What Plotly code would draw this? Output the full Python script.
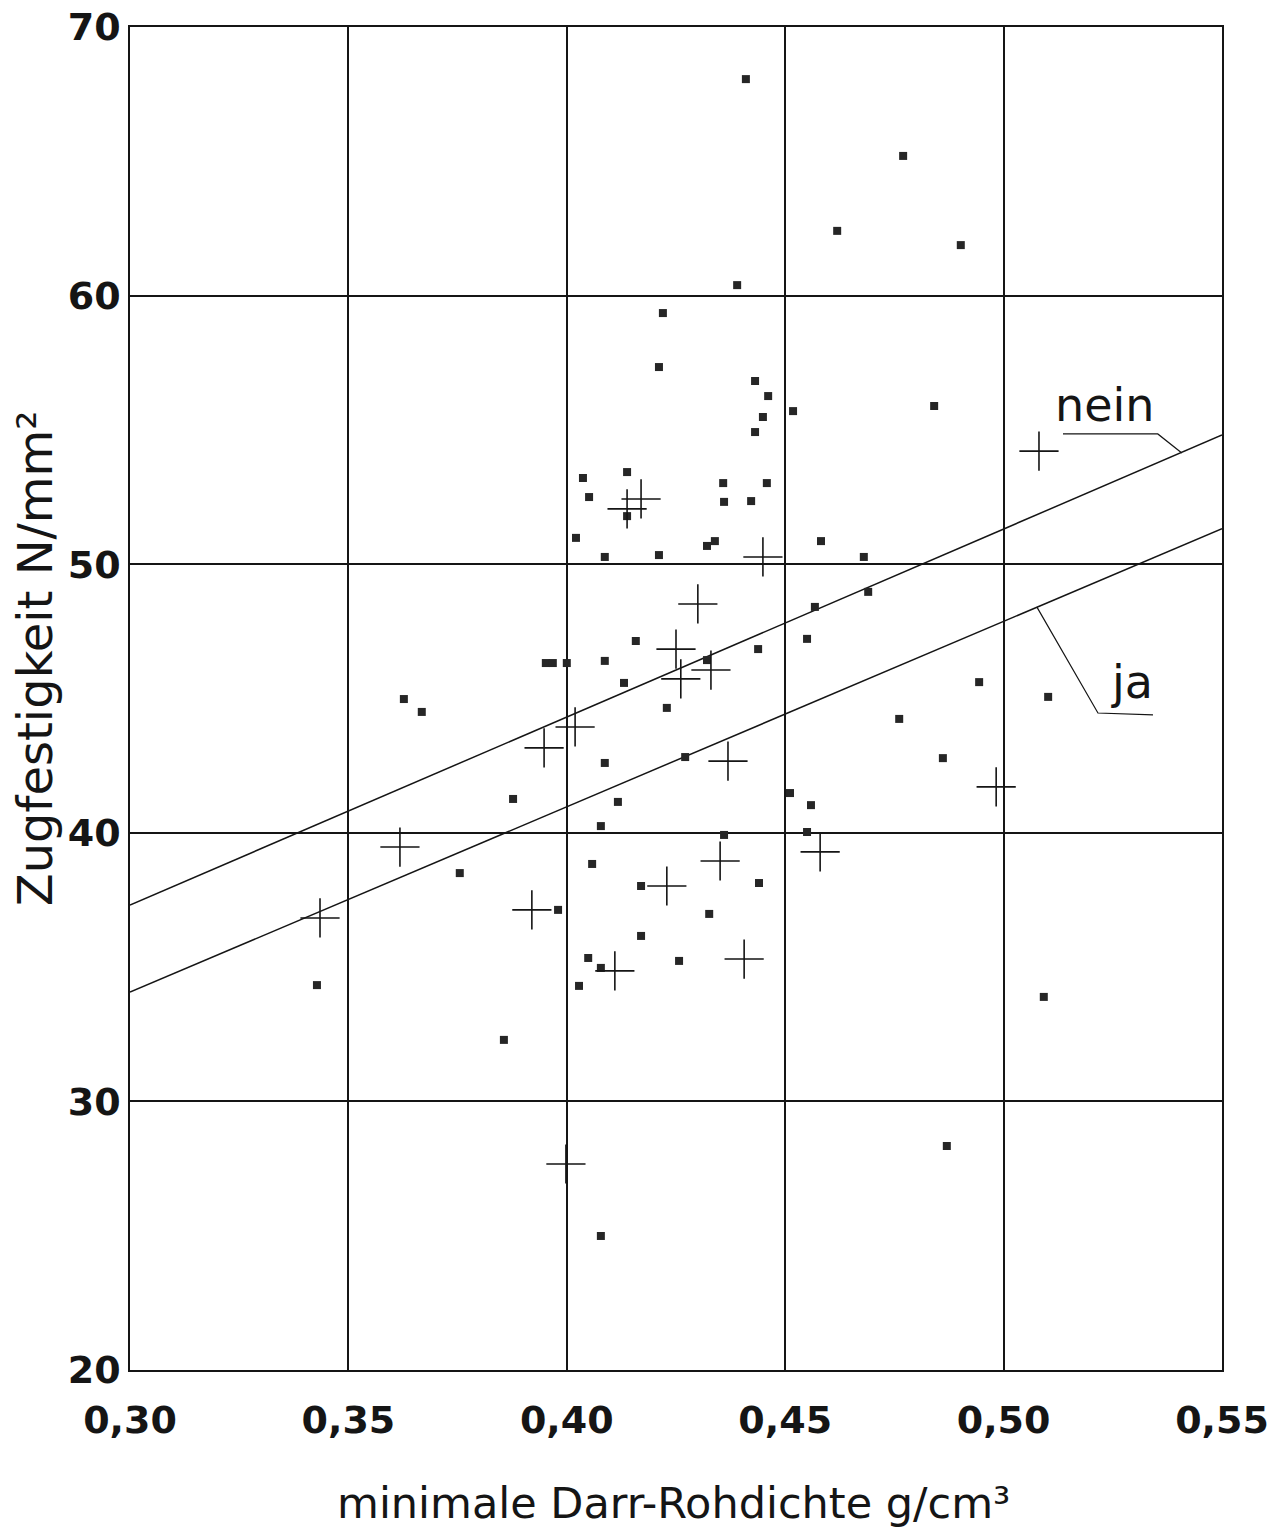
import plotly.graph_objects as go

# ---------------- data ----------------
# squares
sq_x = [0.4410, 0.4770, 0.4619, 0.4902, 0.4390, 0.4220, 0.4211, 0.4431, 0.4461, 0.4841,
        0.4518, 0.4449, 0.4431, 0.4138, 0.4037, 0.4358, 0.4458, 0.4051, 0.4422, 0.4360,
        0.4138, 0.4021, 0.4321, 0.4339, 0.4582, 0.4211, 0.4087, 0.4680, 0.4568, 0.4690,
        0.4550, 0.4438, 0.4321, 0.4158, 0.4087, 0.4000, 0.3952, 0.3968, 0.4131, 0.4229,
        0.3627, 0.3668, 0.4761, 0.4944, 0.5102, 0.4861, 0.4271, 0.4087, 0.4511, 0.4559,
        0.3877, 0.4117, 0.4078, 0.4550, 0.4360, 0.4058, 0.4440, 0.4170, 0.3755, 0.3980,
        0.4326, 0.4170, 0.4049, 0.4078, 0.4257, 0.4028, 0.3428, 0.3856, 0.5092, 0.4870,
        0.4078]
sq_y = [68.06, 65.20, 62.41, 61.88, 60.39, 59.35, 57.34, 56.82, 56.26, 55.89,
        55.70, 55.48, 54.92, 53.43, 53.21, 53.02, 53.02, 52.50, 52.35, 52.32,
        51.79, 50.98, 50.68, 50.86, 50.86, 50.34, 50.27, 50.27, 48.41, 48.97,
        47.22, 46.84, 46.43, 47.14, 46.40, 46.32, 46.32, 46.32, 45.58, 44.65,
        44.98, 44.50, 44.24, 45.61, 45.06, 42.78, 42.82, 42.60, 41.48, 41.03,
        41.26, 41.15, 40.25, 40.03, 39.92, 38.84, 38.13, 38.02, 38.50, 37.13,
        36.98, 36.16, 35.34, 34.97, 35.23, 34.30, 34.33, 32.29, 33.89, 28.34,
        24.99]

# crosses
cr_x = [0.4170, 0.4138, 0.4449, 0.4300, 0.4250, 0.4330, 0.4261, 0.4019, 0.3948, 0.4369,
        0.4983, 0.5081, 0.3618, 0.4580, 0.4351, 0.4229, 0.3920, 0.3435, 0.4110, 0.4406,
        0.3998]
cr_y = [52.43, 52.06, 50.27, 48.52, 46.84, 46.06, 45.73, 43.94, 43.16, 42.67,
        41.71, 54.21, 39.47, 39.29, 38.95, 38.02, 37.13, 36.83, 34.86, 35.30,
        27.67]

# regression lines
line_x = [0.30, 0.55]
nein_y = [37.31, 54.81]
ja_y = [34.07, 51.32]

x_ticks = [0.30, 0.35, 0.40, 0.45, 0.50, 0.55]
x_ticklabels = ["0,30", "0,35", "0,40", "0,45", "0,50", "0,55"]
y_ticks = [20, 30, 40, 50, 60, 70]
y_ticklabels = ["20", "30", "40", "50", "60", "70"]

x_title = "minimale Darr-Rohdichte g/cm³"
y_title = "Zugfestigkeit N/mm²"
label_nein = "nein"
label_ja = "ja"

# ---------------- figure ----------------
INK = "#151515"
fig = go.Figure()

fig.add_trace(go.Scatter(x=line_x, y=nein_y, mode="lines",
                         line=dict(color=INK, width=1.5), name=label_nein,
                         showlegend=False, hoverinfo="skip"))
fig.add_trace(go.Scatter(x=line_x, y=ja_y, mode="lines",
                         line=dict(color=INK, width=1.5), name=label_ja,
                         showlegend=False, hoverinfo="skip"))
fig.add_trace(go.Scatter(x=sq_x, y=sq_y, mode="markers",
                         marker=dict(symbol="square", size=8, color="#262626",
                                     line=dict(width=0)),
                         showlegend=False))
fig.add_trace(go.Scatter(x=cr_x, y=cr_y, mode="markers",
                         marker=dict(symbol="cross-thin", size=28,
                                     line=dict(color=INK, width=1.6)),
                         showlegend=False))

# leader lines for labels (data coordinates)
nein_leader = dict(x=[0.5136, 0.5353, 0.5408], y=[54.85, 54.85, 54.14])
ja_leader = dict(x=[0.5076, 0.5216, 0.5342], y=[48.41, 44.46, 44.39])
for ld in (nein_leader, ja_leader):
    fig.add_trace(go.Scatter(x=ld["x"], y=ld["y"], mode="lines",
                             line=dict(color=INK, width=1.2),
                             showlegend=False, hoverinfo="skip"))

fig.add_annotation(x=0.5232, y=55.93, xref="x", yref="y", text=label_nein,
                   showarrow=False, font=dict(family="DejaVu Sans", size=46, color=INK))
fig.add_annotation(x=0.5294, y=45.61, xref="x", yref="y", text=label_ja,
                   showarrow=False, font=dict(family="DejaVu Sans", size=46, color=INK))

# axis titles as annotations
fig.add_annotation(x=0.498, y=-0.099, xref="paper", yref="paper", text=x_title,
                   xanchor="center", yanchor="middle",
                   showarrow=False, font=dict(family="DejaVu Sans", size=43, color=INK))
fig.add_annotation(x=-0.087, y=0.530, xref="paper", yref="paper", text=y_title,
                   xanchor="center", yanchor="middle",
                   textangle=-90, showarrow=False,
                   font=dict(family="DejaVu Sans", size=48, color=INK))

axis_common = dict(showgrid=True, gridcolor=INK, gridwidth=1.5,
                   showline=True, linecolor=INK, linewidth=1.5, mirror=True,
                   zeroline=False, ticks="", automargin=False,
                   tickfont=dict(family="DejaVu Sans", size=38, color=INK,
                                 weight="bold"))

fig.update_xaxes(range=[0.30, 0.55], tickvals=x_ticks, ticktext=x_ticklabels,
                 ticklabelstandoff=16, **axis_common)
fig.update_yaxes(range=[20, 70], tickvals=y_ticks, ticktext=y_ticklabels,
                 ticklabelstandoff=0, **axis_common)

fig.update_layout(width=1279, height=1531, autosize=False,
                  margin=dict(l=130, r=57, t=27, b=161),
                  paper_bgcolor="white", plot_bgcolor="white")

fig.write_html("out.html", config={"displayModeBar": False},
               post_script="document.body.style.margin='0';")
